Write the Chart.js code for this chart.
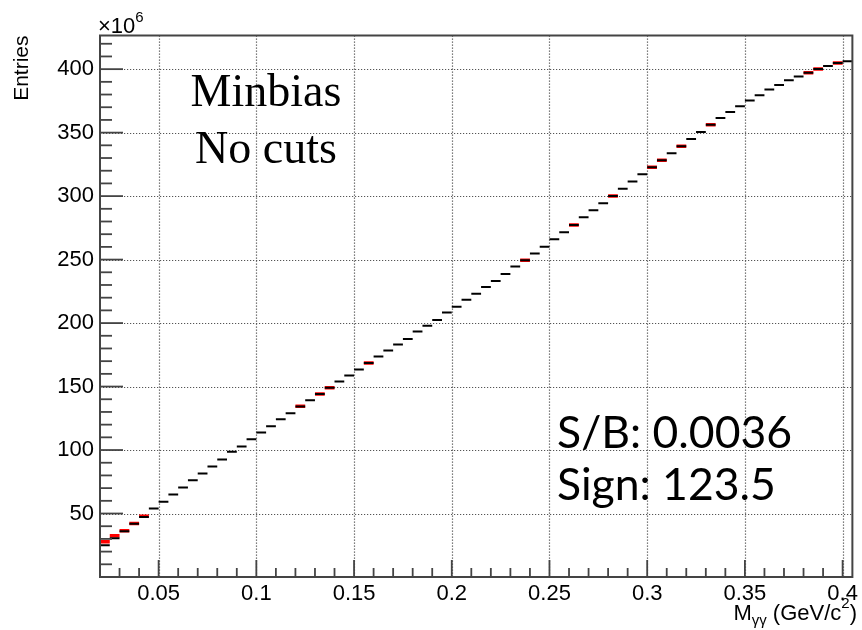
<!DOCTYPE html>
<html>
<head>
<meta charset="utf-8">
<script src="https://cdn.jsdelivr.net/npm/chart.js@4.4.0/dist/chart.umd.min.js"></script>
<style>
  html, body { margin: 0; padding: 0; background: #fff; }
  canvas { display: block; }
</style>
</head>
<body>
<canvas id="chart" width="862" height="630"></canvas>
<script>
// Diphoton invariant mass spectrum, minimum-bias sample, no selection cuts.

// Binning of the histogram (GeV/c^2)
const massMin = 0.02;
const massMax = 0.405;
const binWidth = 0.005;

// Entries per bin (x 10^6), black histogram
const entries = [
  25.0, 30.6, 36.0, 41.9, 47.3, 53.9, 59.2, 65.0, 70.5, 76.2,
  81.6, 87.0, 92.5, 98.6, 102.8, 108.5, 113.8, 118.8, 124.3, 129.0,
  134.2, 139.2, 144.2, 149.0, 153.9, 158.7, 163.4, 168.6, 173.6, 178.3,
  183.1, 187.5, 193.3, 197.8, 202.5, 208.3, 212.8, 218.3, 223.0, 228.5,
  233.2, 238.7, 244.5, 249.5, 254.7, 260.2, 266.0, 271.5, 277.3, 283.3,
  288.8, 294.3, 300.0, 305.7, 311.5, 317.2, 322.8, 328.3, 333.8, 339.2,
  345.0, 350.5, 356.3, 361.6, 366.3, 370.7, 375.4, 379.4, 383.9, 387.6,
  391.2, 394.3, 397.2, 400.1, 402.5, 404.9, 406.2
];

// Red histogram (x 10^6), filled only in some bins
const redEntries = [
  27.7, 32.4, 36.4, 42.1, 47.9, null, null, null, null, null,
  null, null, null, null, null, null, null, null, null, null,
  134.4, null, 144.2, 149.0, null, null, null, 168.6, null, null,
  null, null, null, null, null, null, null, null, null, null,
  null, null, null, 249.5, null, null, null, null, 277.3, null,
  null, null, 300.0, null, null, null, 322.8, 328.3, null, 339.2,
  null, null, 356.3, null, null, null, null, null, null, null,
  null, null, 397.2, 400.1, null, 404.9, null
];

// Axis ticks
const xMajorTicks = [0.05, 0.10, 0.15, 0.20, 0.25, 0.30, 0.35, 0.40];
const yMajorTicks = [50, 100, 150, 200, 250, 300, 350, 400];
const xMinorStep = 0.01;
const yMinorStep = 10;
const yMax = 426.5;

// Each bin becomes a horizontal segment across its width; a null point breaks the line.
function binSegments(values) {
  const pts = [];
  values.forEach((v, i) => {
    if (v === null || v === undefined) return;
    const lo = massMin + i * binWidth;
    const hi = lo + binWidth;
    pts.push({ x: lo, y: v }, { x: hi, y: v }, { x: hi, y: null });
  });
  return pts;
}

const SANS = '"Liberation Sans", Arial, Helvetica, sans-serif';

const rootStyle = {
  id: 'rootStyle',
  beforeDatasetsDraw(chart) {
    const { ctx, chartArea: a, scales: { x, y } } = chart;
    ctx.save();
    ctx.strokeStyle = '#555';
    ctx.lineWidth = 1.2;
    ctx.setLineDash([1.2, 1.8]);
    xMajorTicks.forEach(t => {
      const px = Math.round(x.getPixelForValue(t)) + 0.5;
      ctx.beginPath(); ctx.moveTo(px, a.top); ctx.lineTo(px, a.bottom); ctx.stroke();
    });
    yMajorTicks.forEach(t => {
      const py = Math.round(y.getPixelForValue(t)) + 0.5;
      ctx.beginPath(); ctx.moveTo(a.left, py); ctx.lineTo(a.right, py); ctx.stroke();
    });
    ctx.restore();
  },
  afterDatasetsDraw(chart) {
    const { ctx, chartArea: a, scales: { x, y } } = chart;
    ctx.save();
    // tick marks inside the frame
    ctx.strokeStyle = '#444';
    ctx.lineWidth = 1.8;
    for (let k = 0; ; k++) {
      const v = +(0.02 + k * xMinorStep).toFixed(4);
      if (v > massMax) break;
      const major = xMajorTicks.some(t => Math.abs(t - v) < 1e-6);
      const px = x.getPixelForValue(v);
      ctx.beginPath(); ctx.moveTo(px, a.bottom); ctx.lineTo(px, a.bottom - (major ? 17 : 9)); ctx.stroke();
    }
    for (let k = 1; ; k++) {
      const v = k * yMinorStep;
      if (v > yMax) break;
      const major = yMajorTicks.includes(v);
      const py = y.getPixelForValue(v);
      ctx.beginPath(); ctx.moveTo(a.left, py); ctx.lineTo(a.left + (major ? 23 : 12), py); ctx.stroke();
    }
    // frame
    ctx.lineWidth = 2;
    ctx.strokeStyle = '#444';
    ctx.strokeRect(a.left, a.top, a.right - a.left, a.bottom - a.top);

    ctx.fillStyle = '#000';
    // y axis title
    ctx.save();
    ctx.translate(28, a.top);
    ctx.rotate(-Math.PI / 2);
    ctx.font = '21px ' + SANS;
    ctx.textAlign = 'right';
    ctx.textBaseline = 'alphabetic';
    ctx.fillText('Entries', 0, 0);
    ctx.restore();

    // exponent label
    ctx.textAlign = 'left';
    ctx.textBaseline = 'alphabetic';
    ctx.font = '22px ' + SANS;
    ctx.fillText('\u00d710', 98, 33);
    const w10 = ctx.measureText('\u00d710').width;
    ctx.font = '15px ' + SANS;
    ctx.fillText('6', 98 + w10, 22);

    // x axis title, right aligned at the frame edge
    const parts = [
      { t: ')', size: 22, dy: 0 },
      { t: '2', size: 15, dy: -12 },
      { t: ' (GeV/c', size: 22, dy: 0 },
      { t: '\u03b3\u03b3', size: 15, dy: 5 },
      { t: 'M', size: 22, dy: 0 }
    ];
    let xr = 857;
    const base = 620;
    parts.forEach(p => {
      ctx.font = p.size + 'px ' + SANS;
      const w = ctx.measureText(p.t).width;
      xr -= w;
      ctx.fillText(p.t, xr, base + p.dy);
    });

    // sample description
    ctx.font = '46px "Liberation Serif", "Times New Roman", serif';
    ctx.textAlign = 'center';
    ctx.fillText('Minbias', 266, 106);
    ctx.fillText('No cuts', 266, 163);

    // significance box text
    ctx.font = '44.5px Lato, "Open Sans", sans-serif';
    ctx.textAlign = 'left';
    ctx.fillText('S/B: 0.0036', 557, 448);
    ctx.fillText('Sign: 123.5', 557, 500);
    ctx.restore();
  }
};

new Chart(document.getElementById('chart'), {
  type: 'line',
  data: {
    datasets: [
      {
        label: 'all',
        data: binSegments(entries),
        borderColor: '#000',
        borderWidth: 2,
        pointRadius: 0,
        spanGaps: false,
        tension: 0,
        borderCapStyle: 'butt'
      },
      {
        label: 'red',
        data: binSegments(redEntries),
        borderColor: '#ff0000',
        borderWidth: 3.5,
        pointRadius: 0,
        spanGaps: false,
        tension: 0,
        borderCapStyle: 'butt'
      }
    ]
  },
  options: {
    responsive: false,
    animation: false,
    devicePixelRatio: 1,
    layout: { autoPadding: false, padding: { left: 0, top: 35.5, right: 7.4, bottom: 0 } },
    plugins: { legend: { display: false }, tooltip: { enabled: false } },
    events: [],
    scales: {
      x: {
        type: 'linear',
        min: massMin,
        max: massMax,
        grid: { display: false, drawTicks: false },
        border: { display: false },
        ticks: {
          stepSize: 0.05,
          includeBounds: false,
          autoSkip: false,
          maxRotation: 0,
          padding: 4,
          color: '#000',
          font: { family: SANS, size: 22 },
          callback: v => String(+v.toFixed(3))
        },
        afterFit: s => { s.height = 53; }
      },
      y: {
        type: 'linear',
        min: 0,
        max: yMax,
        grid: { display: false, drawTicks: false },
        border: { display: false },
        ticks: {
          stepSize: 50,
          includeBounds: false,
          autoSkip: false,
          padding: 6,
          color: '#000',
          font: { family: SANS, size: 22 },
          callback: v => (v === 0 ? '' : String(v))
        },
        afterFit: s => { s.width = 100; }
      }
    }
  },
  plugins: [rootStyle]
});
</script>
</body>
</html>
